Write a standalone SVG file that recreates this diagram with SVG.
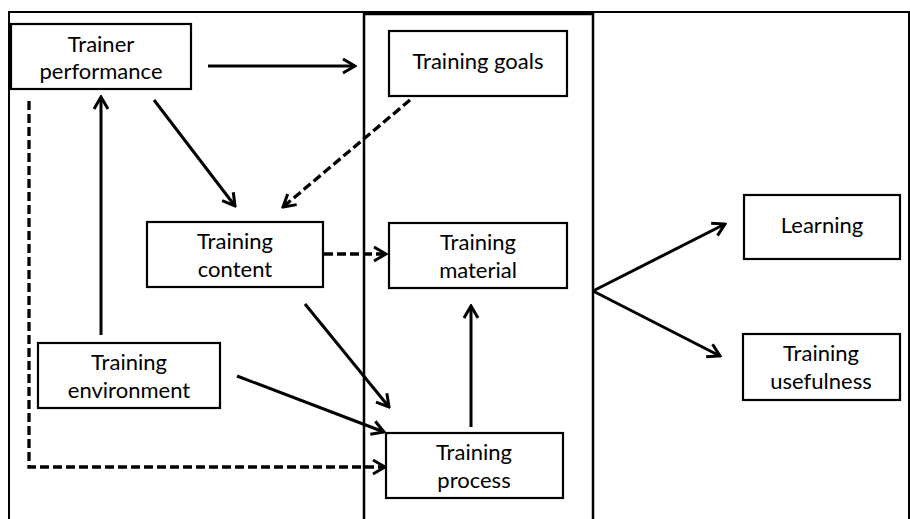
<svg xmlns="http://www.w3.org/2000/svg" width="910" height="519" viewBox="0 0 910 519">
  <style>
    .box { fill: #fff; stroke: #000; stroke-width: 2.2; }
    .lbl { font-family: Lato, "Open Sans", "Liberation Sans", sans-serif; font-size: 22px; fill: #000; text-anchor: middle; }
    .edge { fill: none; stroke: #000; stroke-width: 3; marker-end: url(#head); }
    .dash { stroke-width: 3.3; stroke-dasharray: 9 4; }
  </style>
  <defs>
    <marker id="head" viewBox="-14 -9 16 18" refX="0" refY="0" markerWidth="16" markerHeight="18" markerUnits="userSpaceOnUse" orient="auto">
      <path d="M -12,-7 L 0,0 L -12,7" fill="none" stroke="#000" stroke-width="3" stroke-linejoin="miter"/>
    </marker>
  </defs>
  <rect width="910" height="519" fill="#fff"/>

  <!-- outer frame and central panel -->
  <path d="M 9,519 V 12 H 909 V 519" fill="none" stroke="#000" stroke-width="2"/>
  <path d="M 364,519 V 14 H 593 V 519" fill="none" stroke="#000" stroke-width="2.5"/>

  <g id="connectors">
    <line class="edge" x1="208" y1="66" x2="355" y2="66"/>
    <line class="edge" x1="154" y1="100" x2="235" y2="206"/>
    <line class="edge dash" x1="410" y1="100" x2="283" y2="207"/>
    <line class="edge dash" x1="324" y1="254" x2="386" y2="254"/>
    <line class="edge" x1="101" y1="335" x2="101" y2="97"/>
    <polyline class="edge dash" points="29,101 29,467 385,467"/>
    <line class="edge" x1="305" y1="304" x2="389" y2="407"/>
    <line class="edge" x1="237" y1="376" x2="384" y2="432"/>
    <line class="edge" x1="471" y1="427" x2="471" y2="306"/>
    <line class="edge" x1="593" y1="291" x2="725" y2="224"/>
    <line class="edge" x1="593" y1="291" x2="720" y2="356"/>
  </g>

  <g id="trainer-performance">
    <rect class="box" x="11" y="24" width="180" height="65"/>
    <text class="lbl" x="101" y="52">Trainer</text>
    <text class="lbl" x="101" y="79">performance</text>
  </g>
  <g id="training-goals">
    <rect class="box" x="389" y="31" width="178" height="65"/>
    <text class="lbl" x="478" y="69">Training goals</text>
  </g>
  <g id="training-content">
    <rect class="box" x="147" y="222" width="176" height="65"/>
    <text class="lbl" x="235" y="249">Training</text>
    <text class="lbl" x="235" y="277">content</text>
  </g>
  <g id="training-material">
    <rect class="box" x="389" y="223" width="178" height="65"/>
    <text class="lbl" x="478" y="250">Training</text>
    <text class="lbl" x="478" y="278">material</text>
  </g>
  <g id="training-environment">
    <rect class="box" x="38" y="343" width="182" height="65"/>
    <text class="lbl" x="129" y="370">Training</text>
    <text class="lbl" x="129" y="398">environment</text>
  </g>
  <g id="training-process">
    <rect class="box" x="386" y="433" width="177" height="65"/>
    <text class="lbl" x="474" y="460">Training</text>
    <text class="lbl" x="474" y="488">process</text>
  </g>
  <g id="learning">
    <rect class="box" x="744" y="195" width="156" height="64"/>
    <text class="lbl" x="822" y="233">Learning</text>
  </g>
  <g id="training-usefulness">
    <rect class="box" x="743" y="334" width="157" height="66"/>
    <text class="lbl" x="821" y="361">Training</text>
    <text class="lbl" x="821" y="389">usefulness</text>
  </g>
</svg>
